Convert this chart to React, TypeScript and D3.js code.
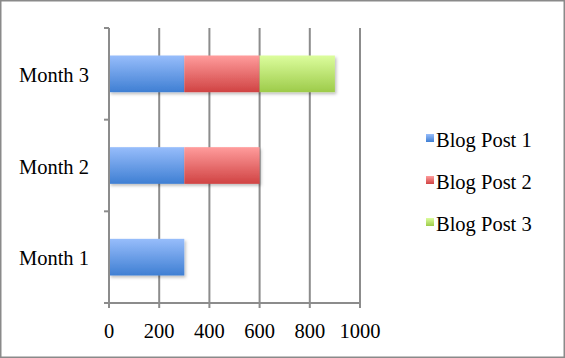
import React from "react";
import * as d3 from "d3";

const categories = ["Month 1", "Month 2", "Month 3"];
const seriesNames = ["Blog Post 1", "Blog Post 2", "Blog Post 3"];
const post1 = [300, 300, 300];
const post2 = [0, 300, 300];
const post3 = [0, 0, 300];
const xTicks = [0, 200, 400, 600, 800, 1000];

const gradients = [
  { id: "g1", top: "#97bdfb", bottom: "#3f7fd3" },
  { id: "g2", top: "#ff9c9c", bottom: "#d04343" },
  { id: "g3", top: "#dcfd9d", bottom: "#9dcb4a" },
];

export default function App() {
  const W = 565, H = 358;
  const left = 109, right = 360, top = 28, bottom = 303;
  const x = d3.scaleLinear().domain([0, 1000]).range([left, right]);
  const y = d3.scaleBand().domain([...categories].reverse()).range([top, bottom]).paddingInner(0.6).paddingOuter(0.3);
  const band = (bottom - top) / categories.length;
  const rows = categories.map((c, i) => ({ c, v: [post1[i], post2[i], post3[i]] }));
  const stack = d3.stack<any>().keys(["0", "1", "2"]).value((d, k) => d.v[+k]);
  const stacked = stack(rows as any);
  const font = "'Liberation Serif', serif";
  return (
    <svg width={W} height={H} style={{ position: "absolute", left: 0, top: 0 }}>
      <defs>
        {gradients.map((g) => (
          <linearGradient key={g.id} id={g.id} x1="0" y1="0" x2="0" y2="1">
            <stop offset="0" stopColor={g.top} />
            <stop offset="1" stopColor={g.bottom} />
          </linearGradient>
        ))}
        <filter id="sh" x="-10%" y="-10%" width="130%" height="140%">
          <feDropShadow dx="1.5" dy="2" stdDeviation="1.5" floodColor="#000" floodOpacity="0.25" />
        </filter>
      </defs>
      <rect x={0.75} y={0.75} width={W - 1.5} height={H - 1.5} fill="#fff" stroke="#8a8a8a" strokeWidth={1.5} />
      {xTicks.map((t) => (
        <line key={t} x1={x(t)} x2={x(t)} y1={top} y2={bottom + 5} stroke="#8c8c8c" strokeWidth={2} />
      ))}
      {stacked.map((s, si) =>
        s.map((d, i) =>
          d[1] - d[0] > 0 ? (
            <rect
              key={si + "-" + i}
              x={x(d[0])}
              y={y(categories[i])!}
              width={x(d[1]) - x(d[0])}
              height={y.bandwidth()}
              fill={`url(#${gradients[si].id})`}
              filter="url(#sh)"
            />
          ) : null
        )
      )}
      <line x1={left} x2={left} y1={top} y2={bottom} stroke="#8c8c8c" strokeWidth={2} />
      <line x1={left} x2={right} y1={bottom} y2={bottom} stroke="#8c8c8c" strokeWidth={2} />
      {d3.range(categories.length + 1).map((i) => (
        <line key={i} x1={left - 5} x2={left} y1={top + i * band} y2={top + i * band} stroke="#8c8c8c" strokeWidth={2} />
      ))}
      {xTicks.map((t) => (
        <text key={t} x={x(t)} y={338} textAnchor="middle" fontFamily={font} fontSize={20.5} fill="#000">
          {t}
        </text>
      ))}
      {categories.map((c) => (
        <text key={c} x={89} y={y(c)! + y.bandwidth() / 2 + 8} textAnchor="end" fontFamily={font} fontSize={20.5} fill="#000">
          {c}
        </text>
      ))}
      {seriesNames.map((n, i) => (
        <g key={n} transform={`translate(426, ${134 + i * 42})`}>
          <rect x={0} y={0} width={8} height={8} fill={`url(#${gradients[i].id})`} />
          <text x={10} y={13} fontFamily={font} fontSize={20.5} fill="#000">
            {n}
          </text>
        </g>
      ))}
    </svg>
  );
}
